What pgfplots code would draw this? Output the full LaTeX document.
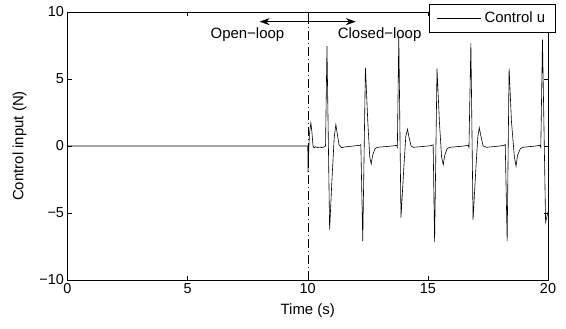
\documentclass[border=0pt]{standalone}
\usepackage{fontspec}
\setmainfont{Liberation Sans}
\usepackage{pgfplots}
\pgfplotsset{compat=1.18}
\usetikzlibrary{arrows.meta}
\begin{document}
\begin{tikzpicture}
\useasboundingbox (0,0) rectangle (566bp,329bp);
\begin{axis}[
  at={(67.5bp,49bp)}, anchor=south west,
  scale only axis, width=480.5bp, height=268bp,
  xmin=0, xmax=20, ymin=-10, ymax=10,
  xtick={0,5,10,15,20}, xticklabels={0,5,10,15,20},
  ytick={-10,-5,0,5,10}, yticklabels={−10,−5,0,5,10},
  tick align=inside, major tick length=4bp,
  axis line style={line width=0.7pt},
  every tick/.style={line width=0.5pt, black},
  tick label style={font=\fontsize{14.5}{16}\selectfont},
  xlabel={Time (s)}, ylabel={Control input (N)},
  every axis x label/.style={at={(axis description cs:0.5,-0.115)}, anchor=center, font=\fontsize{15}{17}\selectfont},
  every axis y label/.style={at={(axis description cs:-0.0998,0.5)}, rotate=90, anchor=center, font=\fontsize{15}{17}\selectfont},
  clip=false,
  legend style={at={(rel axis cs:1.0166,1.031)}, anchor=north east, draw=black, line width=0.6pt, fill=white,
    inner xsep=7bp, inner ysep=6bp, font=\fontsize{15}{17}\selectfont,
    nodes={inner xsep=3.5bp}},
  legend cell align=left,
  legend image code/.code={\draw[#1] (0bp,0bp) -- (44bp,0bp);},
]
\addplot[black, line width=0.6pt] coordinates {
(0,0) (10.00,0) (10.01,-1.95) (10.07,0.9) (10.13,1.73) (10.17,1.1) (10.22,0.0) (10.27,-0.15) (10.33,-0.05)
(10.40,-0.12) (10.50,-0.08) (10.60,-0.12) (10.70,-0.05) (10.74,0.0)
(10.80,7.46) (10.91,-6.24) (11.00,-2.8) (11.10,0.6) (11.17,1.6) (11.23,0.9) (11.30,0.1) (11.40,-0.12)
(11.60,-0.06) (11.90,0.0) (12.17,0.05) (12.21,0.1)
(12.29,-7.1) (12.40,5.85) (12.50,1.8) (12.58,-0.8) (12.64,-1.34) (12.70,-0.7) (12.80,-0.2) (12.90,-0.1)
(13.20,-0.05) (13.50,0.0) (13.70,0.05) (13.73,-0.1)
(13.79,8.2) (13.88,-5.35) (14.00,-1.6) (14.08,0.7) (14.15,1.26) (14.21,0.7) (14.30,0.0) (14.40,-0.1)
(14.70,-0.05) (15.00,0.0) (15.20,0.05) (15.22,0.1)
(15.28,-7.15) (15.38,5.78) (15.48,1.8) (15.57,-0.8) (15.64,-1.4) (15.70,-0.7) (15.80,-0.2) (15.90,-0.1)
(16.20,-0.05) (16.50,0.0) (16.68,0.05) (16.71,-0.1)
(16.79,7.68) (16.88,-5.5) (17.00,-1.6) (17.08,0.7) (17.14,1.36) (17.20,0.8) (17.30,0.0) (17.45,-0.1)
(17.70,-0.05) (18.00,0.0) (18.17,0.05) (18.22,0.1)
(18.30,-7.1) (18.38,5.8) (18.48,1.8) (18.60,-0.8) (18.67,-1.5) (18.73,-0.7) (18.85,-0.2) (18.95,-0.1)
(19.20,-0.05) (19.50,0.0) (19.67,0.05) (19.70,-0.1)
(19.77,7.94) (19.90,-5.7) (20.00,-4.9)
};
\addlegendentry{Control u}
\addplot[black, line width=0.5pt, dash pattern=on 9bp off 3bp on 1bp off 3bp, forget plot] coordinates {(10,-10) (10,10)};
\draw[{Stealth[length=10bp,width=7bp]}-{Stealth[length=10bp,width=7bp]}, line width=0.6pt] (axis cs:8,9.28) -- (axis cs:12,9.28);
\node[font=\fontsize{15}{17}\selectfont] at (axis cs:7.49,8.28) {Open−loop};
\node[font=\fontsize{15}{17}\selectfont] at (axis cs:12.99,8.28) {Closed−loop};
\end{axis}
\end{tikzpicture}
\end{document}
